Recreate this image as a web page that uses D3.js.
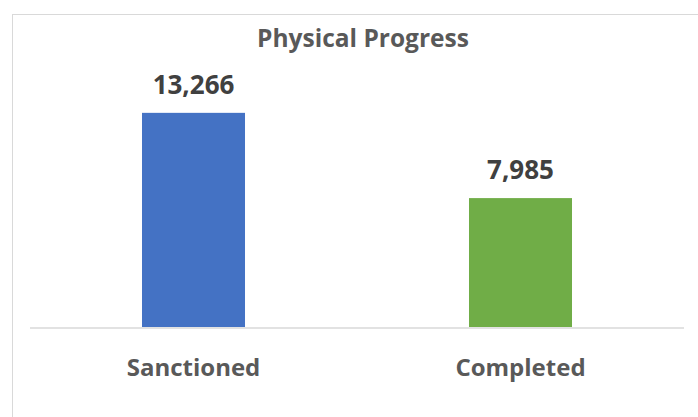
<!DOCTYPE html>
<html>
<head>
<meta charset="utf-8">
<script src="https://cdn.jsdelivr.net/npm/d3@7"></script>
<style>
  body { margin: 0; background: #fff; }
  text { font-family: "Open Sans", sans-serif; font-weight: bold; }
</style>
</head>
<body>
<svg width="698" height="417"></svg>
<script>
// chart data
var categories = ["Sanctioned", "Completed"];
var values = [13266, 7985];
var colors = ["#4472C4", "#70AD47"];
var title = "Physical Progress";

var svg = d3.select("svg");

// outer chart frame (only top and left edges fall inside the view)
svg.append("rect")
  .attr("x", 12.5).attr("y", 14.5)
  .attr("width", 720).attr("height", 440)
  .attr("fill", "#fff")
  .attr("stroke", "#d9d9d9")
  .attr("stroke-width", 1);

var x = d3.scaleBand()
  .domain(categories)
  .range([30, 684])
  .paddingInner(0.685)
  .paddingOuter(0.3425);

var y = d3.scaleLinear()
  .domain([0, 14000])
  .range([327, 101]);

svg.append("text")
  .attr("x", 363).attr("y", 47)
  .attr("text-anchor", "middle")
  .attr("font-size", 24.5)
  .attr("fill", "#595959")
  .text(title);

svg.selectAll(".bar")
  .data(values)
  .join("rect")
  .attr("class", "bar")
  .attr("x", (d, i) => x(categories[i]))
  .attr("width", x.bandwidth())
  .attr("y", d => y(d))
  .attr("height", d => y(0) - y(d))
  .attr("fill", (d, i) => colors[i]);

// baseline
svg.append("line")
  .attr("x1", 30).attr("x2", 684)
  .attr("y1", 328).attr("y2", 328)
  .attr("stroke", "#d9d9d9")
  .attr("stroke-width", 1.5);

var fmt = d3.format(",");
svg.selectAll(".val")
  .data(values)
  .join("text")
  .attr("class", "val")
  .attr("x", (d, i) => x(categories[i]) + x.bandwidth() / 2)
  .attr("y", d => y(d) - 19)
  .attr("text-anchor", "middle")
  .attr("font-size", 26)
  .attr("fill", "#404040")
  .text(d => fmt(d));

svg.selectAll(".cat")
  .data(categories)
  .join("text")
  .attr("class", "cat")
  .attr("x", d => x(d) + x.bandwidth() / 2)
  .attr("y", 376)
  .attr("text-anchor", "middle")
  .attr("font-size", 24)
  .attr("fill", "#595959")
  .text(d => d);
</script>
</body>
</html>
